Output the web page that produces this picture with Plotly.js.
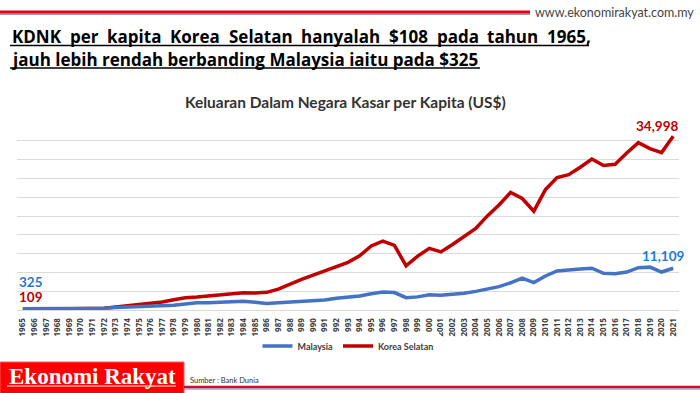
<!DOCTYPE html>
<html>
<head>
<meta charset="utf-8">
<script src="https://cdn.plot.ly/plotly-3.0.1.min.js"></script>
<style>
html,body{margin:0;padding:0;background:#fff;}
#chart{width:700px;height:393px;}
</style>
</head>
<body>
<div id="chart"></div>
<script>
// ---- data ----
const years = ["1965","1966","1967","1968","1969","1970","1971","1972","1973","1974",
  "1975","1976","1977","1978","1979","1980","1981","1982","1983","1984",
  "1985","1986","1987","1988","1989","1990","1991","1992","1993","1994",
  "1995","1996","1997","1998","1999","2000","2001","2002","2003","2004",
  "2005","2006","2007","2008","2009","2010","2011","2012","2013","2014",
  "2015","2016","2017","2018","2019","2020","2021"];
const malaysia = [325,336,334,344,375,357,381,452,
  662,807,774,905,1040,1265,1572,1927,1900,1960,
  2125,2300,2060,1760,1960,2100,2250,2440,2660,3130,
  3430,3720,4330,4800,4640,3280,3490,4040,3910,4170,
  4460,4950,5590,6210,7240,8470,7290,9040,10400,10750,
  10900,11100,9750,9650,10100,11250,11400,10100,11109];
const korea = [109,140,170,210,250,290,320,350,
  600,850,950,1250,1600,2050,2450,2600,2800,2950,
  3250,3450,3400,3550,4200,5200,6150,7000,7900,8750,
  9600,10900,12900,13850,13000,8900,10850,12400,11700,13200,
  14750,16400,18950,21150,23650,22450,19900,24250,26650,27250,
  28750,30400,29100,29350,31600,33700,32500,31700,34998];
const seriesNames = ["Malaysia", "Korea Selatan"];
const chartTitle = "Keluaran Dalam Negara Kasar per Kapita (US$)";
const headLine1 = ["KDNK","per","kapita","Korea","Selatan","hanyalah","$108","pada","tahun","1965,"];
const headLine2 = "jauh lebih rendah berbanding Malaysia iaitu pada $325";
const siteText = "www.ekonomirakyat.com.my";
const brandText = "Ekonomi Rakyat";
const sourceText = "Sumber : Bank Dunia";

// ---- layout geometry ----
const W = 700, H = 393;
const M = {l: 17, r: 21, t: 122, b: 83};
const PW = W - M.l - M.r, PH = H - M.t - M.b;
const px = x => (x - M.l) / PW;
const py = y => (H - M.b - y) / PH;

const RED = "#C00000", BLUE = "#4472C4";
const LBL_BLUE = "#1F7BD1";
const FONT = "Lato, 'Open Sans', sans-serif";
const HEAD_FONT = "'Open Sans', Lato, sans-serif";
const HEAD_SIZE = 17;

// justify heading line 1 between x=10 and x=589 px
const LINE1_L = 10, LINE1_R = 589;
const ctx = document.createElement("canvas").getContext("2d");
ctx.font = "bold " + HEAD_SIZE + "px 'Open Sans', Lato, sans-serif";
const wordW = headLine1.map(w => ctx.measureText(w).width);
const gap = (LINE1_R - LINE1_L - wordW.reduce((a, b) => a + b, 0)) / (headLine1.length - 1);
const line1X = [];
let cx = LINE1_L;
wordW.forEach(w => { line1X.push(cx); cx += w + gap; });

const traces = [
  {x: years, y: malaysia, name: seriesNames[0], type: "scatter", mode: "lines",
   yaxis: "y2", line: {color: BLUE, width: 3.5}},
  {x: years, y: korea, name: seriesNames[1], type: "scatter", mode: "lines",
   yaxis: "y", line: {color: RED, width: 3.5}}
];

const annotations = [];
headLine1.forEach((w, i) => annotations.push({
  text: w, xref: "paper", yref: "paper", x: px(line1X[i]), y: py(36.5),
  xanchor: "left", yanchor: "middle", showarrow: false,
  font: {family: HEAD_FONT, size: HEAD_SIZE, color: "#000", weight: "bold"}
}));
annotations.push({
  text: headLine2, xref: "paper", yref: "paper", x: px(9), y: py(59),
  xanchor: "left", yanchor: "middle", showarrow: false,
  font: {family: HEAD_FONT, size: HEAD_SIZE, color: "#000", weight: "bold"}
});
annotations.push({
  text: siteText, xref: "paper", yref: "paper", x: px(696), y: py(12),
  xanchor: "right", yanchor: "middle", showarrow: false,
  font: {family: FONT, size: 12.5, color: "#444"}
});
// data labels (category index positions)
const n = years.length - 1;
annotations.push({text: String(malaysia[0]), xref: "x", yref: "y2", x: 0, y: malaysia[0],
  xshift: 8, yshift: 27, showarrow: false,
  font: {family: FONT, size: 13.5, color: LBL_BLUE, weight: "bold"}});
annotations.push({text: String(korea[0]), xref: "x", yref: "y", x: 0, y: korea[0],
  xshift: 8, yshift: 12, showarrow: false,
  font: {family: FONT, size: 13.5, color: RED, weight: "bold"}});
annotations.push({text: korea[n].toLocaleString("en-US"), xref: "x", yref: "y", x: n, y: korea[n],
  xshift: -16, yshift: 10, showarrow: false,
  font: {family: FONT, size: 13.5, color: RED, weight: "bold"}});
annotations.push({text: malaysia[n].toLocaleString("en-US"), xref: "x", yref: "y2", x: n, y: malaysia[n],
  xshift: -10, yshift: 12, showarrow: false,
  font: {family: FONT, size: 13.5, color: LBL_BLUE, weight: "bold"}});
// footer
annotations.push({text: brandText, xref: "paper", yref: "paper", x: px(92), y: py(376),
  xanchor: "center", yanchor: "middle", showarrow: false,
  font: {family: "'Liberation Serif', 'DejaVu Serif', serif", size: 23, color: "#fff", weight: "bold"}});
annotations.push({text: sourceText, xref: "paper", yref: "paper", x: px(188), y: py(380),
  xanchor: "left", yanchor: "middle", showarrow: false,
  font: {family: FONT, size: 7.5, color: "#333"}});

const shapes = [
  {type: "line", xref: "paper", yref: "paper", x0: px(0), x1: px(530), y0: py(12), y1: py(12),
   line: {color: "#E60012", width: 3}},
  {type: "line", xref: "paper", yref: "paper", x0: px(0), x1: px(530), y0: py(14.2), y1: py(14.2),
   line: {color: "#5a3a55", width: 0.8}},
  {type: "line", xref: "paper", yref: "paper", x0: px(10), x1: px(589), y0: py(45.5), y1: py(45.5),
   line: {color: "#000", width: 1.6}},
  {type: "line", xref: "paper", yref: "paper", x0: px(10), x1: px(480), y0: py(68), y1: py(68),
   line: {color: "#000", width: 1.6}},
  {type: "rect", xref: "paper", yref: "paper", x0: px(0), x1: px(184), y0: py(362), y1: py(394),
   fillcolor: "#FF0000", line: {color: "#ff5a5a", width: 1}},
  {type: "line", xref: "paper", yref: "paper", x0: px(7), x1: px(176), y0: py(386), y1: py(386),
   line: {color: "#fff", width: 1}},
  {type: "line", xref: "paper", yref: "paper", x0: px(184), x1: px(700), y0: py(387), y1: py(387),
   line: {color: "#C8102E", width: 2.5}},
  {type: "line", xref: "paper", yref: "paper", x0: px(184), x1: px(700), y0: py(389), y1: py(389),
   line: {color: "#5060a0", width: 0.8}}
];

const layout = {
  width: W, height: H,
  margin: M,
  paper_bgcolor: "#fff", plot_bgcolor: "#fff",
  font: {family: FONT},
  title: {text: chartTitle, x: 0.496, xanchor: "center", xref: "paper",
          y: 1 - 103 / H, yanchor: "middle", yref: "container",
          font: {family: FONT, size: 15.5, color: "#333333", weight: "bold"}},
  showlegend: true,
  legend: {orientation: "h", x: 0.5, xanchor: "center", xref: "paper",
           y: 1 - 346 / H, yanchor: "middle", yref: "container",
           itemwidth: 30, traceorder: "normal",
           font: {family: FONT, size: 9, color: "#404040", weight: "bold"}},
  xaxis: {type: "category", categoryorder: "array", categoryarray: years,
          range: [-0.5, years.length - 0.5], tickangle: -90,
          showgrid: false, showline: true, linecolor: "#d9d9d9", linewidth: 1,
          ticks: "", ticklabelstandoff: 4,
          tickfont: {family: "'Open Sans', sans-serif", size: 8, color: "#404040", weight: "bold"},
          fixedrange: true},
  yaxis: {range: [0, 37850], tick0: 0, dtick: 3785, showgrid: true, gridcolor: "#dcdcdc",
          gridwidth: 1, zeroline: false, showticklabels: false, ticks: "", fixedrange: true},
  yaxis2: {range: [0, 50000], overlaying: "y", side: "right", visible: false,
           showgrid: false, zeroline: false, fixedrange: true},
  annotations: annotations,
  shapes: shapes
};

Plotly.newPlot("chart", traces, layout, {displayModeBar: false, staticPlot: true});
</script>
</body>
</html>
